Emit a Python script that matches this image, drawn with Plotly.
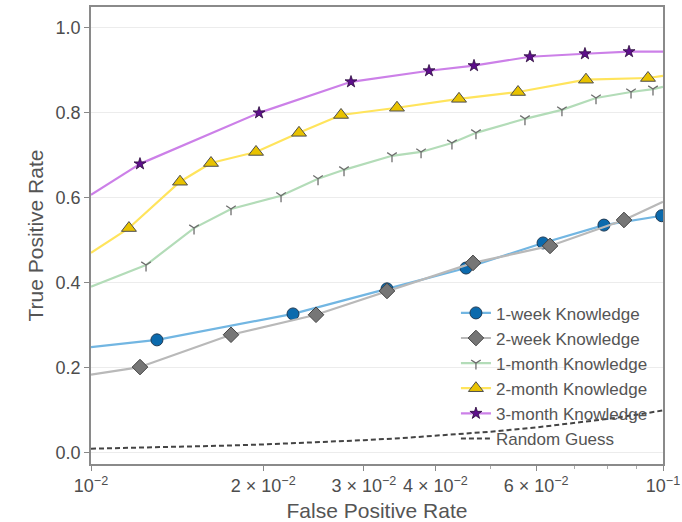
import plotly.graph_objects as go

# ---------------- data ----------------
# 1-week Knowledge
w1_fpr = [0.01304, 0.02255, 0.03292, 0.04525, 0.06170, 0.07884, 0.0995]
w1_tpr = [0.266, 0.327, 0.386, 0.435, 0.494, 0.536, 0.558]
w1_edge_fpr = [0.01, 0.1]
w1_edge_tpr = [0.249, 0.559]

# 2-week Knowledge
w2_fpr = [0.01218, 0.01757, 0.02474, 0.03292, 0.04654, 0.06346, 0.08547]
w2_tpr = [0.202, 0.278, 0.325, 0.381, 0.447, 0.487, 0.548]
w2_edge_fpr = [0.01, 0.1]
w2_edge_tpr = [0.184, 0.591]

# 1-month Knowledge
m1_fpr = [0.01248, 0.01514, 0.01757, 0.02149, 0.02494, 0.02769, 0.03359, 0.03776,
          0.04276, 0.04710, 0.05737, 0.06658, 0.07636, 0.08792, 0.09605]
m1_tpr = [0.442, 0.529, 0.574, 0.605, 0.645, 0.666, 0.699, 0.708,
          0.729, 0.753, 0.786, 0.807, 0.835, 0.849, 0.856]
m1_edge_fpr = [0.01, 0.1]
m1_edge_tpr = [0.391, 0.861]

# 2-month Knowledge
m2_fpr = [0.01165, 0.01431, 0.01621, 0.01943, 0.02310, 0.02736, 0.03427, 0.04399,
          0.05579, 0.07334, 0.09414]
m2_tpr = [0.529, 0.638, 0.682, 0.708, 0.753, 0.795, 0.812, 0.833,
          0.849, 0.878, 0.882]
m2_edge_fpr = [0.01, 0.1]
m2_edge_tpr = [0.471, 0.887]

# 3-month Knowledge
m3_fpr = [0.01218, 0.01967, 0.02848, 0.03899, 0.04673, 0.05853, 0.07304, 0.08722]
m3_tpr = [0.680, 0.800, 0.873, 0.899, 0.911, 0.932, 0.939, 0.944]
m3_edge_fpr = [0.01, 0.1]
m3_edge_tpr = [0.607, 0.944]

# Random Guess (TPR equals FPR)
rg_fpr = [0.01, 0.0125, 0.015, 0.0175, 0.02, 0.025, 0.03, 0.035, 0.04, 0.05,
          0.06, 0.07, 0.08, 0.09, 0.1]
rg_tpr = [0.01, 0.0125, 0.015, 0.0175, 0.02, 0.025, 0.03, 0.035, 0.04, 0.05,
          0.06, 0.07, 0.08, 0.09, 0.1]

x_tickvals = [0.01, 0.02, 0.03, 0.04, 0.06, 0.1]
x_ticktext = ["10<sup>−2</sup>", "2 × 10<sup>−2</sup>", "3 × 10<sup>−2</sup>",
              "4 × 10<sup>−2</sup>", "6 × 10<sup>−2</sup>", "10<sup>−1</sup>"]
x_minor_vals = [0.05, 0.07, 0.08, 0.09]
y_tickvals = [0.0, 0.2, 0.4, 0.6, 0.8, 1.0]

FONT = "Liberation Sans, Arial, Helvetica, sans-serif"

series = [
    dict(name="1-week Knowledge", fpr=w1_fpr, tpr=w1_tpr, efpr=w1_edge_fpr, etpr=w1_edge_tpr,
         line="#72b6e2", symbol="circle", size=12, fill="#0b6aad", edge="#1d3a55", lw=1.0),
    dict(name="2-week Knowledge", fpr=w2_fpr, tpr=w2_tpr, efpr=w2_edge_fpr, etpr=w2_edge_tpr,
         line="#b9b9b9", symbol="diamond", size=12, fill="#767676", edge="#444444", lw=1.0),
    dict(name="1-month Knowledge", fpr=m1_fpr, tpr=m1_tpr, efpr=m1_edge_fpr, etpr=m1_edge_tpr,
         line="#b3dcb8", symbol="y-down", size=8, fill="#6e6e6e", edge="#6e6e6e", lw=1.3),
    dict(name="2-month Knowledge", fpr=m2_fpr, tpr=m2_tpr, efpr=m2_edge_fpr, etpr=m2_edge_tpr,
         line="#ffe45c", symbol="triangle-up", size=13, fill="#e8c200", edge="#4d4d4d", lw=1.0),
    dict(name="3-month Knowledge", fpr=m3_fpr, tpr=m3_tpr, efpr=m3_edge_fpr, etpr=m3_edge_tpr,
         line="#cc80e8", symbol="star", size=9, fill="#5e0f8c", edge="#2a0a3a", lw=0.8),
]

fig = go.Figure()
for s in series:
    # extensions of the curve beyond the first / last marker to the axes edges
    fig.add_trace(go.Scatter(
        x=[s["efpr"][0], s["fpr"][0], None, s["fpr"][-1], s["efpr"][1]],
        y=[s["etpr"][0], s["tpr"][0], None, s["tpr"][-1], s["etpr"][1]],
        mode="lines", line=dict(color=s["line"], width=2.2),
        showlegend=False, hoverinfo="skip", legendgroup=s["name"]))
    fig.add_trace(go.Scatter(
        x=s["fpr"], y=s["tpr"], name=s["name"], mode="lines+markers",
        legendgroup=s["name"],
        line=dict(color=s["line"], width=2.2),
        marker=dict(symbol=s["symbol"], size=s["size"], color=s["fill"],
                    line=dict(color=s["edge"], width=s["lw"]))))

fig.add_trace(go.Scatter(
    x=rg_fpr, y=rg_tpr, name="Random Guess", mode="lines",
    line=dict(color="#444444", width=2, dash="5px,3px")))

fig.update_layout(
    width=682, height=522,
    margin=dict(l=91, r=19, t=7, b=58, autoexpand=False),
    paper_bgcolor="white", plot_bgcolor="white",
    font=dict(family=FONT, color="#4d4d4d", size=18),
    legend=dict(x=0.638, y=0.369, xanchor="left", yanchor="top",
                bgcolor="rgba(0,0,0,0)", font=dict(size=17, color="#555555"),
                tracegroupgap=0),
    xaxis=dict(
        type="log", range=[-2, -1], automargin=False,
        tickvals=x_tickvals, ticktext=x_ticktext,
        ticks="outside", ticklen=5, tickcolor="#888888", tickwidth=1,
        minor=dict(tickvals=x_minor_vals, ticks="outside", ticklen=3,
                   tickcolor="#aaaaaa", showgrid=False),
        showgrid=False, zeroline=False,
        showline=True, mirror=True, linecolor="#8a8a8a", linewidth=1.6,
        tickfont=dict(size=18, color="#4d4d4d"),
        title=dict(text="False Positive Rate", font=dict(size=21, color="#555555"),
                   standoff=10),
    ),
    yaxis=dict(
        range=[-0.026, 1.049], automargin=False,
        tickvals=y_tickvals, tickformat=".1f",
        ticks="outside", ticklen=5, tickcolor="#888888", tickwidth=1,
        showgrid=True, gridcolor="#ececec", gridwidth=1.2, zeroline=False,
        showline=True, mirror=True, linecolor="#8a8a8a", linewidth=1.6,
        tickfont=dict(size=18, color="#4d4d4d"),
        title=dict(text="True Positive Rate", font=dict(size=21, color="#555555"),
                   standoff=6),
    ),
)

fig.write_html("out.html")
